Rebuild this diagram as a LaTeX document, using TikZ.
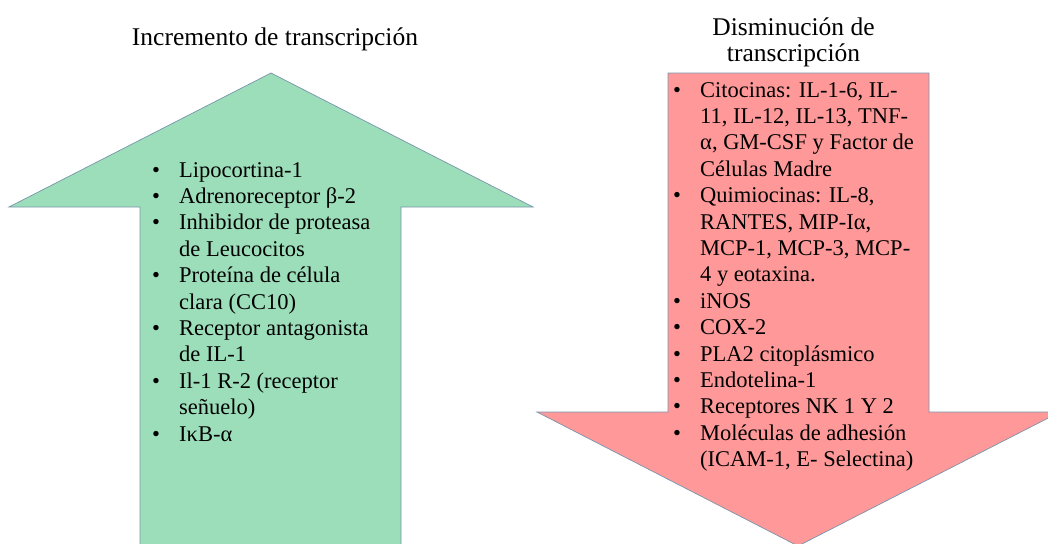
\documentclass[tikz,border=0pt]{standalone}
\usepackage{fontspec}
\setmainfont{Liberation Serif}
\definecolor{upgreen}{RGB}{156,222,186}
\definecolor{downred}{RGB}{255,153,153}
\definecolor{edgegray}{RGB}{120,148,170}
\newcommand\blt{\makebox[27pt][l]{\textbullet}}
\newcommand\cnt{\hspace*{27pt}}
\tikzset{
  bigarrow/.style={draw=edgegray, line width=0.7pt, line join=miter},
  listtext/.style={inner sep=0pt, align=left, anchor=north west,
    font=\fontsize{22.5}{26.4}\selectfont},
  headtext/.style={inner sep=0pt, align=center,
    font=\fontsize{25.5}{26}\selectfont}
}
\begin{document}
\begin{tikzpicture}[x=1pt, y=-1pt]
\useasboundingbox (0,0) rectangle (1048,543);
\clip (0,0) rectangle (1048,543);

% flechas
\draw[bigarrow, fill=upgreen] (271,73) -- (533,207) -- (401,207) -- (401,560)
  -- (140,560) -- (140,207) -- (9,207) -- cycle;
\draw[bigarrow, fill=downred] (668,73) -- (929,73) -- (929,412) -- (1060,412)
  -- (798,546) -- (537,412) -- (668,412) -- cycle;

% titulos
\node[headtext] (inc) at (275,39) {Incremento de transcripción};
\node[headtext] (dis) at (793.5,42) {Disminución de\\transcripción};

% listas
\node[listtext] (uplist) at (152,162) {%
\blt Lipocortina-1\\
\blt Adrenoreceptor β-2\\
\blt Inhibidor de proteasa\\
\cnt de Leucocitos\\
\blt Proteína de célula\\
\cnt clara (CC10)\\
\blt Receptor antagonista\\
\cnt de IL-1\\
\blt Il-1 R-2 (receptor\\
\cnt señuelo)\\
\blt IκB-α};

\node[listtext] (downlist) at (673,82) {%
\blt Citocinas: IL-1-6, IL-\\
\cnt 11, IL-12, IL-13, TNF-\\
\cnt α, GM-CSF y Factor de\\
\cnt Células Madre\\
\blt Quimiocinas: IL-8,\\
\cnt RANTES, MIP-Iα,\\
\cnt MCP-1, MCP-3, MCP-\\
\cnt 4 y eotaxina.\\
\blt iNOS\\
\blt COX-2\\
\blt PLA2 citoplásmico\\
\blt Endotelina-1\\
\blt Receptores NK 1 Y 2\\
\blt Moléculas de adhesión\\
\cnt (ICAM-1, E- Selectina)};
\end{tikzpicture}
\end{document}
